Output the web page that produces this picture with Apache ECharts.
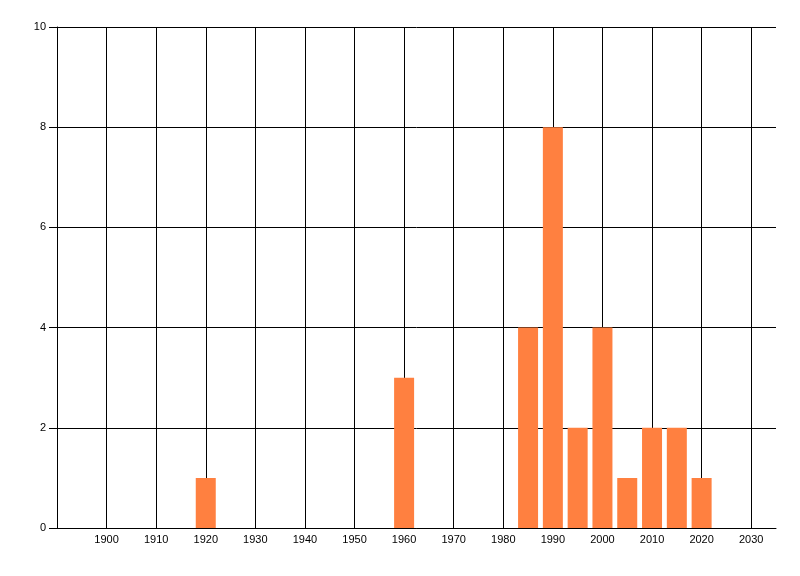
<!DOCTYPE html>
<html>
<head>
<meta charset="utf-8">
<script src="https://cdn.jsdelivr.net/npm/echarts@6/dist/echarts.min.js"></script>
<style>
html,body{margin:0;padding:0;background:#fff;}
#chart{width:800px;height:576px;}
</style>
</head>
<body>
<div id="chart"></div>
<script>
const years = [1920, 1960, 1985, 1990, 1995, 2000, 2005, 2010, 2015, 2020];
const counts = [1, 3, 4, 8, 2, 4, 1, 2, 2, 1];
const xMin = 1890, xMax = 2035, xStep = 10;
const yMin = 0, yMax = 10, yStep = 2;

const chart = echarts.init(document.getElementById('chart'), null, {renderer: 'canvas'});
const font = 'Liberation Sans, Arial, sans-serif';
chart.setOption({
  animation: false,
  backgroundColor: '#ffffff',
  grid: {left: 57, right: 24, top: 27, bottom: 48, containLabel: false},
  xAxis: {
    type: 'value', min: xMin, max: xMax, interval: xStep,
    axisLine: {show: true, onZero: false, lineStyle: {color: '#000', width: 1}},
    axisTick: {show: false},
    axisLabel: {
      color: '#000', fontSize: 11, fontFamily: font, margin: 6,
      formatter: v => (v === xMin || v === xMax) ? '' : String(v),
      showMinLabel: false, showMaxLabel: false
    },
    splitLine: {show: true, showMinLine: false, showMaxLine: false, lineStyle: {color: '#000', width: 1}}
  },
  yAxis: {
    type: 'value', min: yMin, max: yMax, interval: yStep,
    axisLine: {show: true, lineStyle: {color: '#000', width: 1}},
    axisTick: {show: true, length: 8, lineStyle: {color: '#000', width: 1}},
    axisLabel: {color: '#000', fontSize: 11, fontFamily: font, margin: 11},
    splitLine: {show: true, lineStyle: {color: '#000', width: 1}}
  },
  series: [{
    type: 'bar',
    data: years.map((y, i) => [y, counts[i]]),
    barWidth: 20,
    itemStyle: {color: '#ff8040'}
  }]
});
</script>
</body>
</html>
